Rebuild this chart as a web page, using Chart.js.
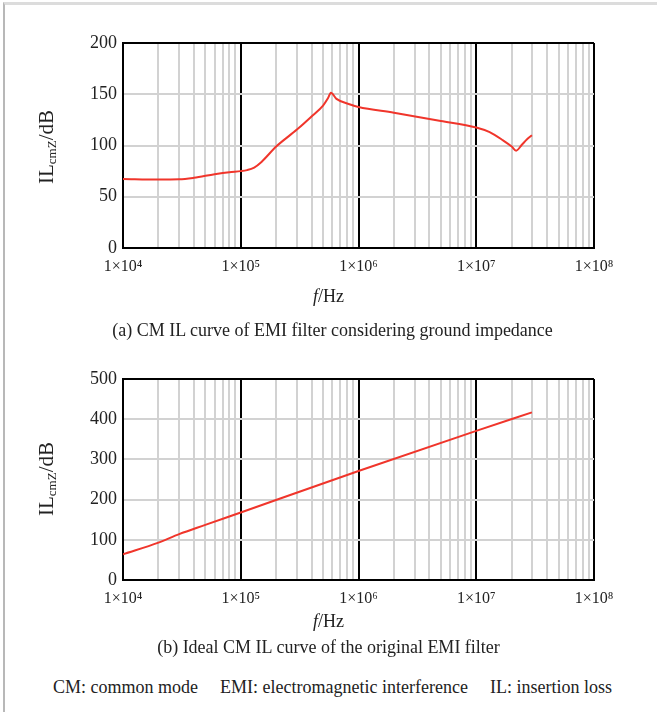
<!DOCTYPE html>
<html>
<head>
<meta charset="utf-8">
<script src="https://cdn.jsdelivr.net/npm/chart.js@4.4.1/dist/chart.umd.min.js"></script>
<style>
  html, body { margin: 0; padding: 0; background: #fff; }
  body { width: 657px; height: 712px; position: relative; overflow: hidden;
         font-family: "Liberation Serif", "DejaVu Serif", serif; color: #222; }
  .frame { position: absolute; left: 3px; top: 2px; right: 0; bottom: 0;
           border-top: 3px solid #dcdcdc; border-left: 2px solid #b8b8b8; }
  .box { position: absolute; left: 0; width: 657px; }
  .ytitle { position: absolute; font-size: 21px; white-space: nowrap;
            transform: translate(-50%, -50%) rotate(-90deg); }
  .ytitle sub { font-size: 13px; vertical-align: -3px; }
  .xtitle { position: absolute; left: 0; width: 657px; text-align: center; font-size: 18px; }
  .caption { position: absolute; left: 0; width: 657px; text-align: center; font-size: 18px; }
  .note { left: 4px; }
  .note span { margin: 0 11px; }
</style>
</head>
<body>
<div class="frame"></div>

<div class="box" style="top:0;height:290px"><canvas id="chartA" width="657" height="290"></canvas></div>
<div class="ytitle" style="left:47px;top:147px">IL<sub>cmZ</sub>/dB</div>
<div class="xtitle" style="top:286px"><i>f</i>/Hz</div>
<div class="caption" style="top:320px;left:4px">(a) CM IL curve of EMI filter considering ground impedance</div>

<div class="box" style="top:336px;height:286px"><canvas id="chartB" width="657" height="286"></canvas></div>
<div class="ytitle" style="left:47px;top:479px">IL<sub>cmZ</sub>/dB</div>
<div class="xtitle" style="top:611px"><i>f</i>/Hz</div>
<div class="caption" style="top:637px">(b) Ideal CM IL curve of the original EMI filter</div>

<div class="caption note" style="top:677px"><span>CM: common mode</span><span>EMI: electromagnetic interference</span><span>IL: insertion loss</span></div>

<script>
// frequency axis: decades and their labels
const decades = [1e4, 1e5, 1e6, 1e7, 1e8];
const decadeLabels = ['1×10⁴', '1×10⁵', '1×10⁶', '1×10⁷', '1×10⁸'];
const minorSteps = [1, 2, 3, 4, 5, 6, 7, 8, 9];

// (a) CM IL with ground impedance
const freqA = [1e4, 2e4, 3e4, 4e4, 6e4, 8e4, 1e5, 1.13e5, 1.3e5, 1.5e5, 2e5, 3e5, 4.1e5, 5e5, 5.5e5,
               5.83e5, 6.5e5, 8.5e5, 1e6, 2e6, 5e6, 1e7, 1.3e7, 1.69e7, 2e7, 2.18e7, 2.45e7, 2.7e7, 2.97e7];
const ilA = [67.3, 66.8, 67, 68.5, 72, 74, 75, 76, 78.5, 84, 99, 115.5, 129.5, 139, 146,
             151.5, 145.5, 140, 137.5, 132, 124, 117.5, 113, 105, 99, 95, 101, 106, 110];

// (b) ideal CM IL
const freqB = [1e4, 2e4, 3e4, 5e4, 1e5, 1e6, 1e7, 2.97e7];
const ilB = [64, 93, 114, 137, 168, 271, 371, 417];

const gridGray = '#d2d2d2';
const lineRed = '#f0352b';
const tickFont = '"Liberation Serif", "DejaVu Serif", serif';

// all 1..9 x 10^n positions for the log grid
const xTicks = [];
decades.forEach((d, i) => {
  if (i === decades.length - 1) { xTicks.push(d); return; }
  minorSteps.forEach(s => xTicks.push(s * d));
});

function isDecade(v) {
  return decades.some(d => Math.abs(v - d) / d < 1e-6);
}

function makeChart(id, freq, il, yMax, yStep) {
  return new Chart(document.getElementById(id), {
    type: 'line',
    data: {
      datasets: [{
        data: freq.map((f, i) => ({ x: f, y: il[i] })),
        borderColor: lineRed,
        borderWidth: 2,
        pointRadius: 0,
        cubicInterpolationMode: 'monotone',
        fill: false
      }]
    },
    options: {
      responsive: false,
      animation: false,
      layout: { padding: { left: 0, right: 63, top: 43, bottom: 0 } },
      plugins: { legend: { display: false }, tooltip: { enabled: false } },
      scales: {
        x: {
          type: 'logarithmic',
          min: decades[0],
          max: decades[decades.length - 1],
          afterBuildTicks: (scale) => { scale.ticks = xTicks.map(v => ({ value: v })); },
          afterFit: (scale) => { scale.height = 42; },
          grid: {
            drawTicks: false,
            lineWidth: 2,
            color: (ctx) => isDecade(ctx.tick.value) ? '#000' : gridGray
          },
          border: { color: '#000', width: 2 },
          ticks: {
            autoSkip: false,
            maxRotation: 0,
            padding: 9,
            color: '#222',
            font: { family: tickFont, size: 16 },
            callback: (v) => {
              const i = decades.findIndex(d => Math.abs(v - d) / d < 1e-6);
              return i >= 0 ? decadeLabels[i] : '';
            }
          }
        },
        y: {
          min: 0,
          max: yMax,
          afterFit: (scale) => { scale.width = 123; },
          grid: {
            drawTicks: false,
            lineWidth: 2,
            color: (ctx) => ctx.tick.value === yMax ? '#000' : gridGray
          },
          border: { color: '#000', width: 2 },
          ticks: {
            stepSize: yStep,
            padding: 6,
            color: '#222',
            font: { family: tickFont, size: 18 }
          }
        }
      }
    }
  });
}

makeChart('chartA', freqA, ilA, 200, 50);
makeChart('chartB', freqB, ilB, 500, 100);
</script>
</body>
</html>
